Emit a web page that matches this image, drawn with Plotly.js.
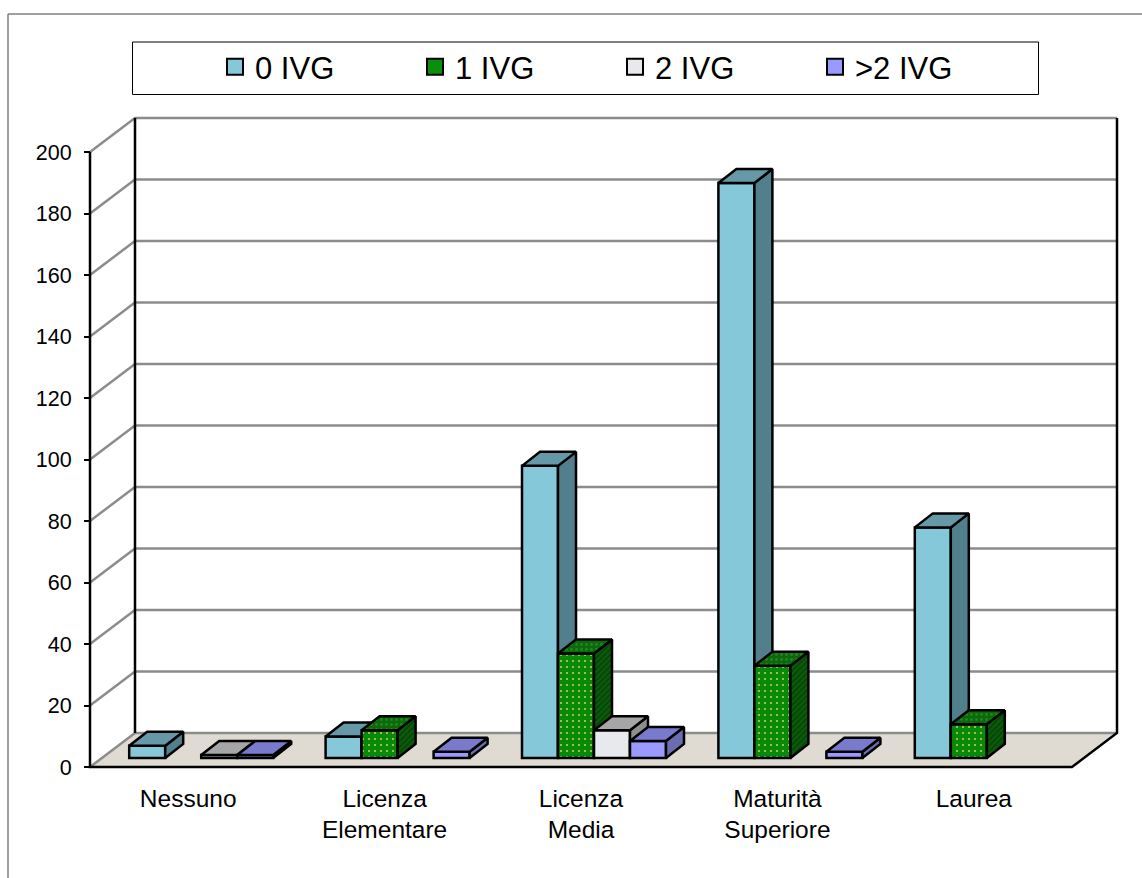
<!DOCTYPE html>
<html><head><meta charset="utf-8">
<script src="https://cdn.plot.ly/plotly-3.0.1.min.js"></script>
<style>html,body{margin:0;padding:0;background:#fff}</style></head>
<body><div id="chart" style="width:1142px;height:878px"></div>
<script>
const categories = ['Nessuno','Licenza<br>Elementare','Licenza<br>Media','Maturità<br>Superiore','Laurea'];
const seriesNames = ['0 IVG','1 IVG','2 IVG','>2 IVG'];
const ivg0 = [4,7,95,187,75];
const ivg1 = [0,9,34,30,11];
const ivg2 = [1,0,9,0,0];
const ivg3 = [1,2,5.5,2,0];
const yTicks = [0,20,40,60,80,100,120,140,160,180,200];

const W=1142,H=878;
const pxX=196.4, pxY=3.075, pad=6;
const pLeft=90,pRight=1117,pBottom=767,pTop=118;
const wallDX=45/pxX, wallDY=34/pxY;
const xMin=-0.5, xFront=4.5, xMax=xMin+(pRight-pLeft)/pxX;
const yMax=(pBottom-pTop)/pxY;
const xRange=[xMin-pad/pxX,xMax+pad/pxX], yRange=[-pad/pxY,yMax+pad/pxY];
const barW=36/pxX, shiftX=13/pxX, lift=9/pxY, depthX=18/pxX, depthY=14/pxY;

const styles=[
 {front:'#84c8da',top:'#6699a8',side:'#527f8c'},
 {front:'#0a8f0a',top:'#0b680b',side:'#0a5c0a',fp:{shape:'.',bgcolor:'#078a07',fgcolor:'#c8c860',size:6,solidity:0.1},
  tp:{shape:'.',bgcolor:'#0b680b',fgcolor:'#1d8a1d',size:5,solidity:0.25},sp:{shape:'/',bgcolor:'#0a5c0a',fgcolor:'#063e06',size:4,solidity:0.35}},
 {front:'#e8e9ec',top:'#a6a6a6',side:'#8e8e8e'},
 {front:'#9999ff',top:'#7a7acc',side:'#6c6cb0'}
];
const data=[ivg0,ivg1,ivg2,ivg3];
const traces=[];

// floor
traces.push({type:'scatter',mode:'lines',x:[xMin,xFront,xFront+wallDX,xMin+wallDX,xMin],y:[0,0,wallDY,wallDY,0],
  fill:'toself',fillcolor:'#dfdbd3',line:{width:0},showlegend:false,hoverinfo:'skip'});
// grid lines on side and back walls
const gx=[],gy=[];
yTicks.forEach(v=>{gx.push(xMin,xMin+wallDX,xMax,null);gy.push(v,v+wallDY,v+wallDY,null);});
traces.push({type:'scatter',mode:'lines',x:gx,y:gy,line:{color:'#8c8c8c',width:2.5},showlegend:false,hoverinfo:'skip'});
// dark frame edges
traces.push({type:'scatter',mode:'lines',
  x:[xMin,xMin,xFront,xMax,xMax,null,xMin+wallDX,xMin+wallDX],
  y:[200,0,0,wallDY,200+wallDY,null,wallDY,200+wallDY],
  line:{color:'#000',width:2.5},showlegend:false,hoverinfo:'skip'});

const layout={width:W,height:H,margin:{l:0,r:0,t:0,b:0,pad:0},paper_bgcolor:'#fff',plot_bgcolor:'rgba(0,0,0,0)',
  showlegend:true,hovermode:false,barmode:'overlay',
  font:{family:'"Liberation Sans",Arial,sans-serif',color:'#000'},
  xaxis:{domain:[(pLeft-pad)/W,(pRight+pad)/W],range:xRange,anchor:'free',position:(H-pBottom)/H,tickmode:'array',tickvals:[0,1,2,3,4],ticktext:categories,
    ticks:'',showgrid:false,zeroline:false,showline:false,tickfont:{size:24.5,color:'#000'},ticklabelstandoff:14,automargin:false},
  yaxis:{domain:[(H-pBottom-pad)/H,(H-pTop+pad)/H],range:yRange,anchor:'free',position:pLeft/W,tickmode:'array',tickvals:yTicks,ticks:'outside',ticklen:6,tickwidth:2,tickcolor:'#000',
    showgrid:false,zeroline:false,showline:false,tickfont:{size:21.5,color:'#000'},ticklabelstandoff:8,ticklabelshift:1.5,automargin:false},
  legend:{orientation:'h',x:215/W,xanchor:'left',y:(H-40)/H,yanchor:'top',bgcolor:'rgba(0,0,0,0)',borderwidth:0,
    entrywidth:155,entrywidthmode:'pixels',font:{size:31,color:'#000'},traceorder:'normal'},
  shapes:[
    {type:'line',xref:'paper',yref:'paper',x0:8/W,x1:8/W,y0:0,y1:(H-14)/H,line:{color:'#7f7f7f',width:1.5}},
    {type:'line',xref:'paper',yref:'paper',x0:8/W,x1:1,y0:(H-14)/H,y1:(H-14)/H,line:{color:'#7f7f7f',width:1.5}},
    {type:'rect',xref:'paper',yref:'paper',x0:132.5/W,x1:1038.5/W,y0:(H-94.5)/H,y1:(H-42)/H,line:{color:'#000',width:1},fillcolor:'#fff',layer:'below'}
  ]};

data.forEach((vals,s)=>{
  const n=s+2, xa='x'+n, ya='y'+n, st=styles[s];
  layout['xaxis'+n]={overlaying:'x',range:xRange,visible:false,fixedrange:true};
  layout['yaxis'+n]={overlaying:'y',range:yRange,visible:false,fixedrange:true};
  const cx=vals.map((v,i)=>i+shiftX+(s-1.5)*barW);
  traces.push({type:'bar',xaxis:xa,yaxis:ya,name:seriesNames[s],x:cx,y:vals.map(v=>v||null),base:vals.map(v=>v?lift:null),width:barW,
    marker:{color:st.front,line:{color:'#000',width:2.5},pattern:st.fp||{shape:''}},showlegend:false,hoverinfo:'skip'});
  const sx=[],sy=[],tx=[],ty=[];
  vals.forEach((v,i)=>{
    if(!v) return;
    const r=cx[i]+barW/2,l=cx[i]-barW/2,b=lift,t=lift+v;
    sx.push(r,r+depthX,r+depthX,r,r,null);sy.push(b,b+depthY,t+depthY,t,b,null);
    tx.push(l,l+depthX,r+depthX,r,l,null);ty.push(t,t+depthY,t+depthY,t,t,null);
  });
  traces.push({type:'scatter',mode:'lines',xaxis:xa,yaxis:ya,x:sx,y:sy,fill:'toself',fillcolor:st.side,fillpattern:st.sp,
    line:{color:'#000',width:2.5},showlegend:false,hoverinfo:'skip'});
  traces.push({type:'scatter',mode:'lines',xaxis:xa,yaxis:ya,x:tx,y:ty,fill:'toself',fillcolor:st.top,fillpattern:st.tp,
    line:{color:'#000',width:2.5},showlegend:false,hoverinfo:'skip'});
});
// legend keys
data.forEach((vals,s)=>{
  traces.push({type:'scatter',mode:'markers',name:seriesNames[s],x:[null],y:[null],
    marker:{symbol:'square',size:16,color:styles[s].front,line:{color:'#000',width:2}},hoverinfo:'skip'});
});
Plotly.newPlot('chart',traces,layout,{displayModeBar:false,staticPlot:true});
</script></body></html>
